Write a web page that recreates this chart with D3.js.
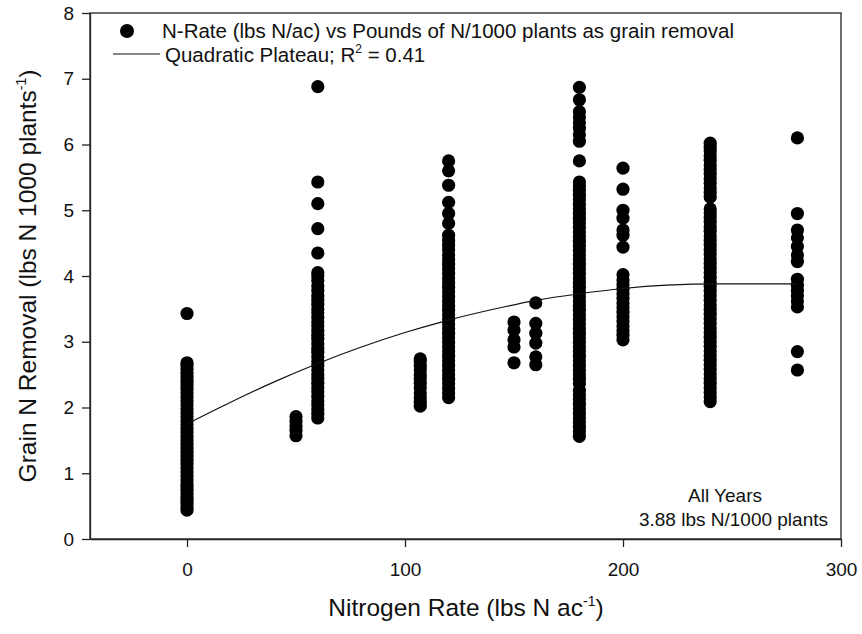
<!DOCTYPE html>
<html>
<head>
<meta charset="utf-8">
<title>Grain N removal vs nitrogen rate</title>
<script src="https://cdn.jsdelivr.net/npm/d3@7"></script>
<style>
  body { margin: 0; background: #fff; }
  text { font-family: "Liberation Sans", Arial, sans-serif; fill: #111; }
</style>
</head>
<body>
<svg id="chart" width="862" height="634"></svg>
<script>
// N rate (lbs N/ac) and grain N removal (lbs N / 1000 plants) per rate
const n0   = [0.44,0.49,0.54,0.59,0.64,0.69,0.74,0.79,0.84,0.9,0.96,1.02,1.08,1.14,1.2,1.26,1.32,1.38,1.44,1.5,1.56,1.62,1.68,1.74,1.8,1.86,1.92,1.98,2.04,2.1,2.16,2.22,2.28,2.34,2.4,2.46,2.52,2.58,2.64,2.68,3.43];
const n50  = [1.57,1.65,1.72,1.79,1.86];
const n60  = [1.84,1.9,1.97,2.04,2.1,2.17,2.24,2.3,2.37,2.44,2.5,2.57,2.64,2.7,2.77,2.84,2.9,2.97,3.04,3.1,3.17,3.24,3.3,3.37,3.44,3.5,3.57,3.64,3.7,3.78,3.85,3.93,4.0,4.05,4.35,4.72,5.1,5.43,6.88];
const n107 = [2.02,2.08,2.15,2.22,2.3,2.37,2.44,2.5,2.57,2.63,2.7,2.74];
const n120 = [2.15,2.22,2.29,2.36,2.43,2.5,2.57,2.64,2.71,2.78,2.85,2.92,2.99,3.06,3.13,3.2,3.27,3.34,3.41,3.48,3.55,3.62,3.69,3.76,3.83,3.9,3.97,4.04,4.11,4.18,4.25,4.32,4.4,4.47,4.54,4.62,4.8,4.95,5.12,5.38,5.6,5.75];
const n150 = [2.68,2.92,3.03,3.18,3.3];
const n160 = [2.65,2.77,2.98,3.13,3.28,3.59];
const n180 = [1.56,1.63,1.7,1.77,1.84,1.91,1.98,2.05,2.12,2.19,2.26,2.36,2.43,2.5,2.57,2.64,2.71,2.78,2.85,2.92,2.99,3.06,3.13,3.2,3.27,3.34,3.41,3.48,3.55,3.62,3.69,3.76,3.83,3.9,3.97,4.04,4.11,4.18,4.25,4.32,4.39,4.46,4.53,4.6,4.67,4.74,4.81,4.88,4.95,5.02,5.09,5.16,5.23,5.3,5.37,5.43,5.75,6.05,6.15,6.25,6.33,6.42,6.5,6.68,6.87];
const n200 = [3.03,3.1,3.17,3.24,3.31,3.38,3.45,3.52,3.59,3.66,3.73,3.8,3.87,3.94,4.02,4.44,4.62,4.7,4.88,5.0,5.32,5.64];
const n240 = [2.09,2.16,2.23,2.3,2.37,2.44,2.51,2.58,2.65,2.72,2.79,2.86,2.93,3.0,3.07,3.14,3.21,3.28,3.35,3.42,3.49,3.56,3.63,3.7,3.77,3.84,3.91,3.98,4.05,4.12,4.19,4.26,4.33,4.4,4.47,4.54,4.61,4.68,4.75,4.82,4.89,4.96,5.02,5.2,5.27,5.34,5.41,5.48,5.55,5.62,5.69,5.76,5.83,5.9,5.96,6.02];
const n280 = [2.57,2.85,3.53,3.62,3.7,3.78,3.86,3.95,4.22,4.32,4.45,4.58,4.7,4.95,6.1];

const rates = [0, 50, 60, 107, 120, 150, 160, 180, 200, 240, 280];
const removal = [n0, n50, n60, n107, n120, n150, n160, n180, n200, n240, n280];

// quadratic plateau fit
const fitX = [0, 20, 40, 60, 80, 100, 120, 140, 160, 180, 200, 220, 244, 280];
const fitY = [1.75, 2.08, 2.39, 2.67, 2.92, 3.14, 3.33, 3.49, 3.63, 3.73, 3.81, 3.86, 3.88, 3.88];

const xTicks = [0, 100, 200, 300];
const yTicks = [0, 1, 2, 3, 4, 5, 6, 7, 8];

const points = [];
rates.forEach(function(r, i) {
  removal[i].forEach(function(v) { points.push({ rate: r, value: v }); });
});

const margin = { left: 90, right: 21, top: 13, bottom: 95 };
const width = 862, height = 634;
const svg = d3.select("#chart");

const x = d3.scaleLinear().domain([-44.5, 300]).range([margin.left, width - margin.right]);
const y = d3.scaleLinear().domain([0, 8]).range([height - margin.bottom, margin.top]);

// frame
svg.append("rect")
  .attr("x", margin.left).attr("y", margin.top)
  .attr("width", x(300) - margin.left).attr("height", y(0) - margin.top)
  .attr("fill", "none").attr("stroke", "#222").attr("stroke-width", 1.3);

const xAxis = svg.append("g")
  .attr("transform", "translate(0," + y(0) + ")")
  .call(d3.axisBottom(x).tickValues(xTicks).tickSize(8).tickSizeOuter(0).tickPadding(16));
const yAxis = svg.append("g")
  .attr("transform", "translate(" + margin.left + ",0)")
  .call(d3.axisLeft(y).tickValues(yTicks).tickSize(8).tickSizeOuter(0).tickPadding(8));
[xAxis, yAxis].forEach(function(a) {
  a.select(".domain").attr("stroke", "#222").attr("stroke-width", 1.3);
  a.selectAll(".tick line").attr("stroke", "#222").attr("stroke-width", 1.3);
  a.selectAll(".tick text").attr("font-size", 19).attr("fill", "#111")
    .attr("font-family", "Liberation Sans, Arial, sans-serif");
});

// points
svg.append("g").selectAll("circle")
  .data(points)
  .enter()
  .append("circle")
  .attr("cx", function(d) { return x(d.rate); })
  .attr("cy", function(d) { return y(d.value); })
  .attr("r", 6.6)
  .attr("fill", "#000");

// fitted curve
const line = d3.line()
  .x(function(d) { return x(d[0]); })
  .y(function(d) { return y(d[1]); })
  .curve(d3.curveMonotoneX);
svg.append("path")
  .datum(fitX.map(function(v, i) { return [v, fitY[i]]; }))
  .attr("d", line)
  .attr("fill", "none")
  .attr("stroke", "#111")
  .attr("stroke-width", 1.2);

// legend
const legend = svg.append("g");
legend.append("circle").attr("cx", 127).attr("cy", 31).attr("r", 7).attr("fill", "#000");
legend.append("text").attr("x", 162).attr("y", 38).attr("font-size", 20.5)
  .text("N-Rate (lbs N/ac) vs Pounds of N/1000 plants as grain removal");
legend.append("line").attr("x1", 113).attr("x2", 160).attr("y1", 54).attr("y2", 54)
  .attr("stroke", "#111").attr("stroke-width", 1.2);
const l2 = legend.append("text").attr("x", 165).attr("y", 61.5).attr("font-size", 20.5);
l2.append("tspan").text("Quadratic Plateau; R");
l2.append("tspan").attr("font-size", 12).attr("dy", -9).text("2");
l2.append("tspan").attr("dy", 9).text(" = 0.41");

// annotation
svg.append("text").attr("x", 725).attr("y", 502).attr("font-size", 19)
  .attr("text-anchor", "middle").text("All Years");
svg.append("text").attr("x", 828).attr("y", 526).attr("font-size", 19)
  .attr("text-anchor", "end").text("3.88 lbs N/1000 plants");

// axis titles
const xt = svg.append("text").attr("x", 466).attr("y", 616).attr("font-size", 24.5)
  .attr("text-anchor", "middle");
xt.append("tspan").text("Nitrogen Rate (lbs N ac");
xt.append("tspan").attr("font-size", 14).attr("dy", -10).text("-1");
xt.append("tspan").attr("dy", 10).text(")");

const yt = svg.append("text")
  .attr("transform", "translate(36," + 276 + ") rotate(-90)")
  .attr("font-size", 24.5)
  .attr("text-anchor", "middle");
yt.append("tspan").text("Grain N Removal (lbs N 1000 plants");
yt.append("tspan").attr("font-size", 14).attr("dy", -10).text("-1");
yt.append("tspan").attr("dy", 10).text(")");
</script>
</body>
</html>
